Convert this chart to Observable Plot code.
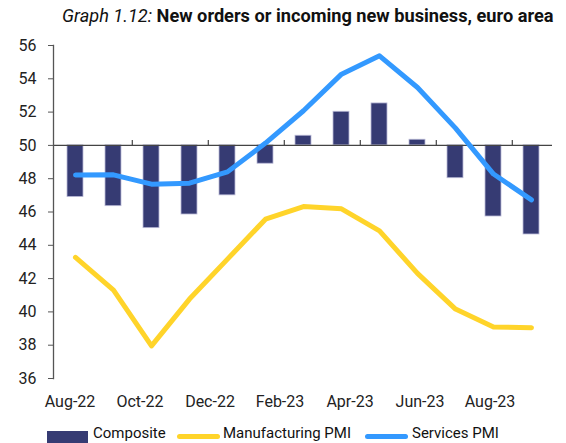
<!DOCTYPE html>
<html>
<head>
<meta charset="utf-8">
<script src="https://cdn.jsdelivr.net/npm/d3@7"></script>
<script src="https://cdn.jsdelivr.net/npm/@observablehq/plot@0.6"></script>
<style>
  html, body { margin: 0; padding: 0; background: #fff; overflow: hidden; }
  #wrap { position: relative; width: 566px; height: 443px; overflow: hidden; font-family: Roboto, "Noto Sans", sans-serif; color: #111; }
  #title { position: absolute; left: 62px; top: 5px; font-size: 18.2px; white-space: nowrap; }
  #title i { font-weight: normal; }
  #title b { font-weight: bold; }
  #main { position: absolute; left: 0; top: 0; }
  #xlab { position: absolute; left: 0; top: 388px; }
  .lg { position: absolute; font-size: 15px; white-space: nowrap; }
</style>
</head>
<body>
<div id="wrap">
  <div id="main"></div>
  <div id="xlab"></div>
  <div id="title"><i>Graph 1.12:</i> <b>New orders or incoming new business, euro area</b></div>
  <div id="legend"></div>
</div>
<script>
const months = ["Aug-22","Sep-22","Oct-22","Nov-22","Dec-22","Jan-23","Feb-23","Mar-23","Apr-23","May-23","Jun-23","Jul-23","Aug-23"];
const composite = [46.9, 46.35, 45.03, 45.85, 47.0, 48.9, 50.58, 52.02, 52.52, 50.34, 48.03, 45.73, 44.65];
const manufacturing = [43.27, 41.31, 37.96, 40.77, 43.17, 45.57, 46.33, 46.19, 44.87, 42.31, 40.17, 39.09, 39.05];
const services = [48.22, 48.23, 47.67, 47.73, 48.41, 50.14, 52.08, 54.28, 55.38, 53.48, 51.04, 48.28, 46.73];
const yTicks = [36, 38, 40, 42, 44, 46, 48, 50, 52, 54, 56];
const xTickLabels = ["Aug-22","Oct-22","Dec-22","Feb-23","Apr-23","Jun-23","Aug-23"];
const boundaryTicks = ["Oct-22","Dec-22","Feb-23","Apr-23","Jun-23","Aug-23"];
const seriesNames = ["Composite", "Manufacturing PMI", "Services PMI"];
const colors = {bar: "#363b73", manu: "#ffd42a", serv: "#3399ff"};

const data = months.map((m, i) => ({month: m, composite: composite[i], manufacturing: manufacturing[i], services: services[i]}));

const main = Plot.plot({
  width: 566,
  height: 388,
  marginTop: 45,
  marginBottom: 10,
  marginLeft: 53,
  marginRight: 14,
  style: {fontFamily: "Roboto, 'Noto Sans', sans-serif", fontSize: "16px", color: "#222", background: "transparent"},
  x: {type: "band", domain: months, paddingInner: 0.59, paddingOuter: 0.295, axis: null},
  y: {domain: [36, 56], axis: null},
  marks: [
    Plot.barY(data, {x: "month", y1: 50, y2: "composite", fill: colors.bar, stroke: "#b9b9d6", strokeWidth: 0.8}),
    Plot.ruleY([50], {stroke: "#444", strokeWidth: 1.3}),
    Plot.ruleX(boundaryTicks, {x: d => d, y1: 50, y2: 50.3, dx: -19.2, stroke: "#444", strokeWidth: 1.2}),
    Plot.frame({anchor: "left", stroke: "#555", strokeWidth: 1.3}),
    Plot.axisY({ticks: yTicks, tickSize: 5, tickPadding: 12, stroke: "#555", fontSize: 16, fill: "#222"}),
    Plot.line(data, {x: "month", y: "manufacturing", stroke: colors.manu, strokeWidth: 5, strokeLinecap: "round", strokeLinejoin: "round"}),
    Plot.line(data, {x: "month", y: "services", stroke: colors.serv, strokeWidth: 5, strokeLinecap: "round", strokeLinejoin: "round"})
  ]
});
document.getElementById("main").appendChild(main);

const xlab = Plot.plot({
  width: 566,
  height: 26,
  marginTop: 0,
  marginBottom: 0,
  marginLeft: 49,
  marginRight: 57,
  style: {fontFamily: "Roboto, 'Noto Sans', sans-serif", background: "transparent"},
  x: {type: "band", domain: months, padding: 0, axis: null},
  marks: [
    Plot.text(xTickLabels, {x: d => d, frameAnchor: "middle", text: d => d, fontSize: 16, fill: "#222"})
  ]
});
document.getElementById("xlab").appendChild(xlab);

// legend
const leg = document.getElementById("legend");
const items = [
  {name: seriesNames[0], type: "rect", color: colors.bar, sx: 47, sw: 41, tx: 93},
  {name: seriesNames[1], type: "line", color: colors.manu, sx: 177, sw: 43, tx: 223},
  {name: seriesNames[2], type: "line", color: colors.serv, sx: 365, sw: 43, tx: 412}
];
items.forEach(it => {
  const sw = document.createElement("div");
  sw.style.position = "absolute";
  sw.style.left = it.sx + "px";
  sw.style.width = it.sw + "px";
  if (it.type === "rect") {
    sw.style.top = "431px"; sw.style.height = "14px"; sw.style.background = it.color;
  } else {
    sw.style.top = "434px"; sw.style.height = "5px"; sw.style.borderRadius = "3px"; sw.style.background = it.color;
  }
  leg.appendChild(sw);
  const t = document.createElement("div");
  t.className = "lg";
  t.style.left = it.tx + "px";
  t.style.top = "424px";
  t.style.lineHeight = "18px";
  t.textContent = it.name;
  leg.appendChild(t);
});
</script>
</body>
</html>
